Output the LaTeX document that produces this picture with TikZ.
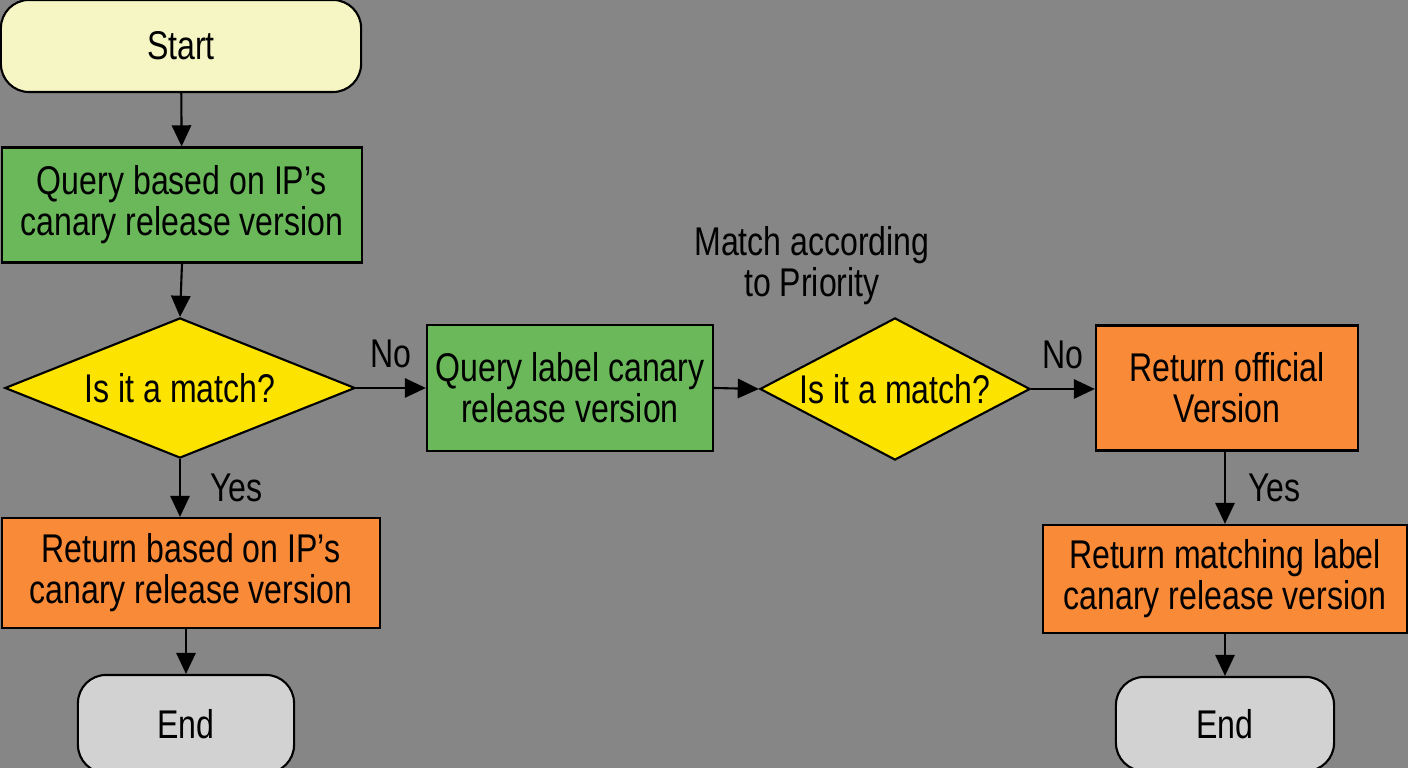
\documentclass[tikz,border=0pt]{standalone}
\usepackage{fontspec}
\setmainfont{Liberation Sans}[FakeStretch=0.8]
\usepackage{tikz}
\usetikzlibrary{shapes.geometric}
\usetikzlibrary{positioning}
\usetikzlibrary{arrows.meta}
\usepackage{xcolor}
\definecolor{bggray}{HTML}{868686}
\definecolor{startfill}{HTML}{F6F6C4}
\definecolor{queryfill}{HTML}{6AB85A}
\definecolor{askfill}{HTML}{FDE300}
\definecolor{retfill}{HTML}{F88A38}
\definecolor{endfill}{HTML}{D2D2D2}

\begin{document}
\begin{tikzpicture}[x=0.01cm, y=-0.01cm,
    font=\fontsize{11.4}{11.6}\selectfont,
    every node/.style={align=center, text=black},
    terminal/.style={draw, line width=0.6pt, rounded corners=8pt, inner sep=0pt},
    querybox/.style={draw, line width=0.6pt, rectangle, fill=queryfill, inner sep=0pt},
    retbox/.style={draw, line width=0.6pt, rectangle, fill=retfill, inner sep=0pt},
    askbox/.style={draw, line width=0.6pt, diamond, fill=askfill, inner sep=0pt, aspect=2.5},
    flow/.style={-{Triangle[length=6pt, width=5.5pt]}, line width=0.6pt}]
            % background and page size
            \fill[bggray] (0,0) rectangle (1408,768);
            \useasboundingbox (0,0) rectangle (1408,768);
            % left column
            \node[terminal, fill=startfill, minimum width=3.6cm, minimum height=0.92cm] (start) at (181,46) {Start};
            \node[querybox, minimum width=3.6cm, minimum height=1.15cm] (qip) at (182,205) {Query based on IP’s\\canary release version};
            \node[askbox, minimum width=3.5cm, minimum height=1.4cm] (ask1) at (180,388) {Is it a match?};
            \node[retbox, minimum width=3.78cm, minimum height=1.1cm] (retip) at (191,573) {Return based on IP’s\\canary release version};
            \node[terminal, fill=endfill, minimum width=2.16cm, minimum height=0.98cm] (end1) at (186,724) {End};
            % middle and right
            \node[querybox, minimum width=2.86cm, minimum height=1.26cm] (qlabel) at (570,388) {Query label canary\\release version};
            \node[askbox, minimum width=2.7cm, minimum height=1.42cm] (ask2) at (895,389) {Is it a match?};
            \node (prio) at (812,266) {Match according\\to Priority};
            \node[retbox, minimum width=2.62cm, minimum height=1.25cm] (retoff) at (1227,388) {Return official\\Version};
            \node[retbox, minimum width=3.63cm, minimum height=1.08cm] (retlabel) at (1225,579) {Return matching label\\canary release version};
            \node[terminal, fill=endfill, minimum width=2.18cm, minimum height=0.94cm] (end2) at (1225,724) {End};
            % connectors
            \draw[flow] (start) -- (qip);
            \draw[flow] (qip.south) -- (ask1.north);
            \draw[flow] (ask1.south) -- node[right=5pt] {Yes} (ask1.south |- retip.north);
            \draw[flow] (ask1.east) -- node[above=2pt] {No} (qlabel.west);
            \draw[flow] (qlabel.east) -- (ask2.west);
            \draw[flow] (ask2.east) -- node[above=2pt] {No} (ask2.east -| retoff.west);
            \draw[flow] (retoff.south -| retlabel.north) -- node[right=3pt] {Yes} (retlabel.north);
            \draw[flow] (retip.south -| end1.north) -- (end1.north);
            \draw[flow] (retlabel.south) -- (end2.north);
        \end{tikzpicture}
\end{document}
